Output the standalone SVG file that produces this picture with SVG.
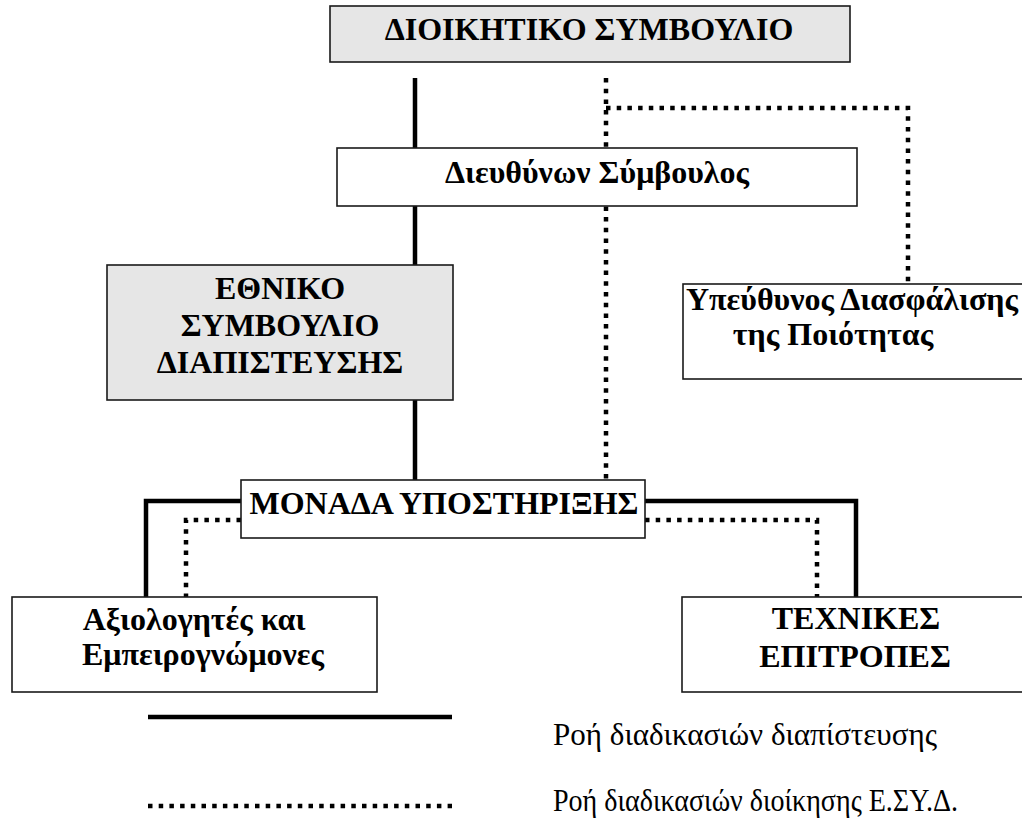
<svg xmlns="http://www.w3.org/2000/svg" width="1022" height="821" viewBox="0 0 1022 821">
  <style>
    .box { fill: #ffffff; stroke: #1a1a1a; stroke-width: 1.6; }
    .box.shaded { fill: #e6e6e6; }
    .label { font-family: "Liberation Serif", "Times New Roman", serif; font-weight: bold; font-size: 32px; fill: #000; text-anchor: middle; }
    .legend-text { font-family: "Liberation Serif", "Times New Roman", serif; font-size: 31px; fill: #000; }
    .solid { fill: none; stroke: #000; stroke-width: 4.5; }
    .dotted { fill: none; stroke: #000; stroke-width: 4.5; stroke-dasharray: 4.5 6.2; }
  </style>
  <rect width="1022" height="821" fill="#ffffff"/>

  <!-- connectors -->
  <g id="connectors">
    <path class="solid" d="M415,78 V480"/>
    <path class="dotted" d="M606,78 V480"/>
    <path class="dotted" d="M606,108 H908 V284"/>
    <path class="solid" d="M241,501 H146 V597"/>
    <path class="solid" d="M645,501 H856 V597"/>
    <path class="dotted" d="M241,520 H186 V597"/>
    <path class="dotted" d="M645,520 H817 V597"/>
  </g>

  <!-- nodes -->
  <g id="board">
    <rect class="box shaded" x="330" y="6" width="520" height="56"/>
    <text class="label" x="589" y="40">ΔΙΟΙΚΗΤΙΚΟ ΣΥΜΒΟΥΛΙΟ</text>
  </g>
  <g id="ceo">
    <rect class="box" x="337" y="148" width="520" height="58"/>
    <text class="label" x="597" y="183">Διευθύνων Σύμβουλος</text>
  </g>
  <g id="national-council">
    <rect class="box shaded" x="107" y="265" width="346" height="135"/>
    <text class="label" x="280" y="299">ΕΘΝΙΚΟ</text>
    <text class="label" x="280" y="336">ΣΥΜΒΟΥΛΙΟ</text>
    <text class="label" x="280" y="373">ΔΙΑΠΙΣΤΕΥΣΗΣ</text>
  </g>
  <g id="quality">
    <rect class="box" x="683" y="284" width="345" height="95"/>
    <text class="label" x="852" y="310">Υπεύθυνος Διασφάλισης</text>
    <text class="label" x="833" y="345">της Ποιότητας</text>
  </g>
  <g id="support-unit">
    <rect class="box" x="241" y="480" width="404" height="58"/>
    <text class="label" x="444" y="514">ΜΟΝΑΔΑ ΥΠΟΣΤΗΡΙΞΗΣ</text>
  </g>
  <g id="assessors">
    <rect class="box" x="12" y="597" width="365" height="95"/>
    <text class="label" x="194" y="630">Αξιολογητές και</text>
    <text class="label" x="203" y="665">Εμπειρογνώμονες</text>
  </g>
  <g id="technical-committees">
    <rect class="box" x="682" y="597" width="346" height="95"/>
    <text class="label" x="856" y="629">ΤΕΧΝΙΚΕΣ</text>
    <text class="label" x="855" y="667">ΕΠΙΤΡΟΠΕΣ</text>
  </g>

  <!-- legend -->
  <g id="legend">
    <line class="solid" x1="148" y1="717" x2="452" y2="717" stroke-width="6"/>
    <text class="legend-text" x="553" y="745" textLength="384" lengthAdjust="spacingAndGlyphs">Ροή διαδικασιών διαπίστευσης</text>
    <line class="dotted" x1="148" y1="806" x2="452" y2="806"/>
    <text class="legend-text" x="553" y="811" textLength="405" lengthAdjust="spacingAndGlyphs">Ροή διαδικασιών διοίκησης Ε.ΣΥ.Δ.</text>
  </g>
</svg>
